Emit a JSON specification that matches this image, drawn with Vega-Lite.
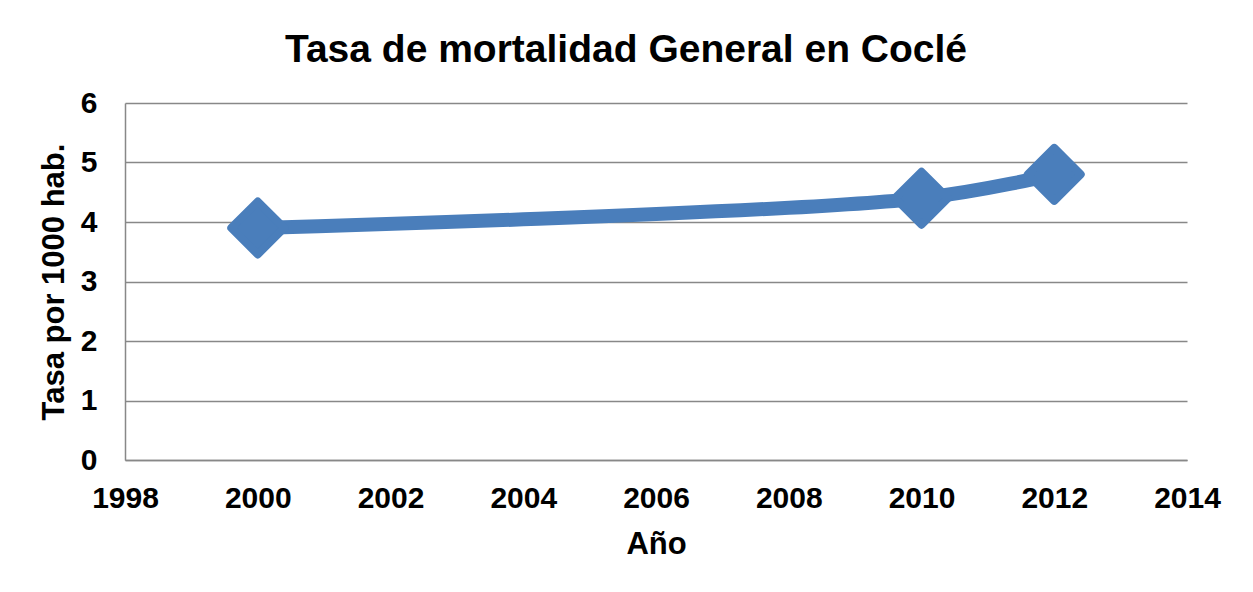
{
  "$schema": "https://vega.github.io/schema/vega-lite/v6.json",
  "width": 1062,
  "height": 357,
  "autosize": {"type": "none"},
  "padding": {"left": 125, "top": 103, "right": 66, "bottom": 132},
  "background": "white",
  "title": {
    "text": "Tasa de mortalidad General en Coclé",
    "font": "Liberation Sans",
    "fontSize": 39,
    "fontWeight": "bold",
    "color": "#000000",
    "anchor": "middle",
    "offset": 18,
    "dx": -30
  },
  "data": {
    "values": [
      {"year": 2000, "rate": 3.9},
      {"year": 2010, "rate": 4.4},
      {"year": 2012, "rate": 4.8}
    ]
  },
  "config": {
    "view": {"stroke": null},
    "font": "Liberation Sans",
    "axis": {
      "labelFont": "Liberation Sans",
      "labelFontSize": 30,
      "labelFontWeight": "bold",
      "labelColor": "#000000",
      "titleFont": "Liberation Sans",
      "titleFontSize": 31,
      "titleFontWeight": "bold",
      "titleColor": "#000000",
      "domainColor": "#888888",
      "domainWidth": 1.5,
      "gridColor": "#888888",
      "gridWidth": 1.5,
      "ticks": false
    }
  },
  "encoding": {
    "x": {
      "field": "year",
      "type": "quantitative",
      "title": "Año",
      "scale": {"domain": [1998, 2014], "nice": false, "zero": false},
      "axis": {"values": [1998, 2000, 2002, 2004, 2006, 2008, 2010, 2012, 2014], "format": "d", "grid": false, "labelFlush": false, "labelPadding": 23, "titlePadding": 16}
    },
    "y": {
      "field": "rate",
      "type": "quantitative",
      "title": "Tasa por 1000 hab.",
      "scale": {"domain": [0, 6], "nice": false},
      "axis": {"values": [0, 1, 2, 3, 4, 5, 6], "labelPadding": 28, "titlePadding": 10, "labelFlush": false}
    }
  },
  "layer": [
    {
      "mark": {"type": "line", "color": "#4A7EBB", "strokeWidth": 14, "interpolate": "catmull-rom", "strokeCap": "round"}
    },
    {
      "mark": {"type": "point", "shape": "diamond", "filled": true, "color": "#4A7EBB", "stroke": "#4A7EBB", "strokeWidth": 8, "strokeJoin": "round", "size": 2800, "opacity": 1}
    }
  ]
}
